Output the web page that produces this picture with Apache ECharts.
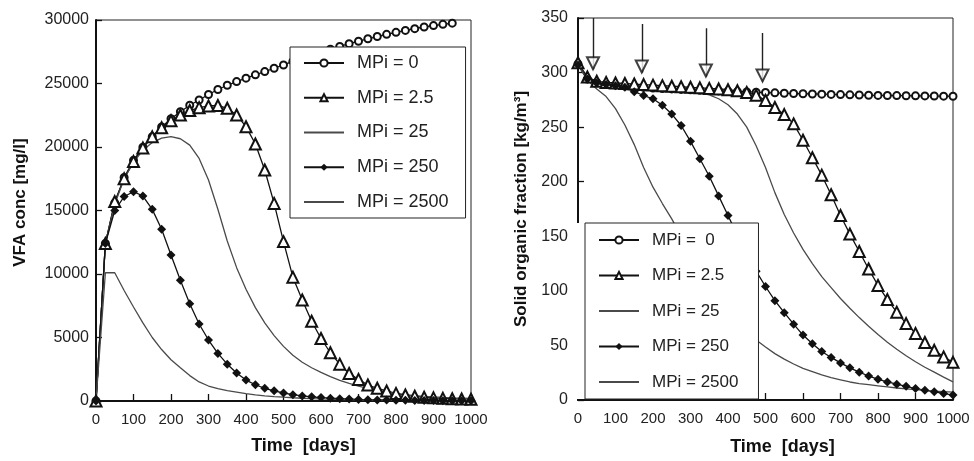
<!DOCTYPE html>
<html><head><meta charset="utf-8">
<script src="https://cdn.jsdelivr.net/npm/echarts@6/dist/echarts.min.js"></script>
<style>html,body{margin:0;padding:0;background:#fff}#c{width:974px;height:461px}</style>
</head><body><div id="c"></div><script>
// ---- data ----
const days = [0,25,50,75,100,125,150,175,200,225,250,275,300,325,350,375,400,425,450,475,500,525,550,575,600,625,650,675,700,725,750,775,800,825,850,875,900,925,950,975,1000];

// Left panel: VFA concentration [mg/l]
const vfa0 = [0,12400,15600,17600,18950,19980,20810,21580,22230,22780,23290,23700,24130,24530,24860,25150,25420,25680,25940,26200,26460,26740,27000,27240,27470,27700,27920,28130,28330,28520,28700,28870,29030,29180,29320,29450,29560,29660,29750];
const vfa2_5 = [0,12400,15700,17500,18850,19920,20800,21520,22070,22520,22870,23100,23230,23270,23050,22520,21600,20240,18190,15560,12550,9750,7950,6280,4920,3800,2900,2170,1700,1260,1000,790,600,470,370,300,250,210,180,160,140];
const vfa25 = [0,12400,15500,17500,18800,19750,20350,20700,20810,20650,20150,19100,17400,15100,12600,10500,8800,7350,6150,5150,4300,3600,3050,2620,2250,1920,1630,1380,1170,990,840,710,600,510,430,370,320,280,250,225,200];
const vfa250 = [0,12400,15000,16100,16480,16140,15090,13520,11500,9500,7650,6060,4800,3750,2900,2200,1650,1280,1000,800,630,500,400,330,270,220,180,150,120,100,85,70,60,50,42,36,30,26,22,19,16];
const vfa2500 = [0,10100,10100,8700,7400,6150,5000,4050,3250,2620,2000,1500,1180,970,820,700,580,490,410,350,300,255,215,185,160,140,120,105,92,80,70,62,55,49,44,39,35,31,28,25,22];

// Right panel: solid organic fraction [kg/m3]
const sof0 = [308,294,291,289.5,288.5,287.6,287,286.4,285.9,285.4,285,284.6,284.2,283.8,283.5,283.2,282.9,282.6,282.3,282,281.7,281.4,281.1,280.8,280.6,280.4,280.2,280,279.8,279.6,279.4,279.2,279.1,279,278.9,278.8,278.7,278.6,278.5,278.4,278.3];
const sof2_5 = [309,296,292,291,290.5,290,289.5,289,288.5,288,287.5,287,286.5,286,285.5,285,284.3,283.3,281.8,279.3,274.5,268,261.5,253,238,222,206,188,169,152,136,120,105,92,80.5,70,61,52.7,45.5,39.5,34.5];
const sof25 = [308,294,290.5,289,288,287,286.2,285.5,284.8,284.2,283.6,283,282.3,281.3,279.5,276,270.5,262,250,233,213,190,170,153,138,125,113,103,93,84,75.5,67.5,60,53,46.5,40.5,35,30,25.5,21,16.6];
const sof250 = [307,294,290.5,289,288,286.5,282.5,279,276,270,262,251.5,237,221,205,187,169,151,134,118,104,91,80,69.5,59.5,51.5,44.5,39,34,29.5,25.5,22,19,16.5,14.5,12.5,10.5,9,7.5,6,4.5];
const sof2500 = [307,293,285,278,267,252,234,213,195,180,166,150,135,120,106,93,82,72,63,55,48.5,42.5,37.5,33,29,26,23,20.5,18.5,16.5,15,14,13,12,11,10.2,9.5,8.8,8.2,7.7,7.2];

// Arrows on right panel (day, top of shaft, tip value)
const arrowDays = [40,170,341,492];
const arrowTop = [350,344.6,340.7,336.2];
const arrowTip = [303,300,296.4,291.9];

const leftNames = ['MPi = 0','MPi = 2.5','MPi = 25','MPi = 250','MPi = 2500'];
const rightNames = ['MPi =  0','MPi = 2.5','MPi = 25','MPi = 250','MPi = 2500'];
const lineOnly = ['MPi = 25','MPi = 2500'];

// ---- chart ----
const FONT = '"Liberation Sans", Arial, Helvetica, sans-serif';
const pairs = (xs, ys) => ys.map((y, i) => [xs[i], y]);
const BLACK = '#111', GRAY = '#4a4a4a';

function mkSeries(name, gi, ys, kind) {
  const s = {
    name, type: 'line', xAxisIndex: gi, yAxisIndex: gi,
    data: pairs(days, ys), showAllSymbol: true, z: 3,
    lineStyle: { color: BLACK, width: 1.3 }, itemStyle: { color: BLACK }
  };
  if (kind === 'circle') { s.symbol = 'emptyCircle'; s.symbolSize = 7; s.itemStyle.borderWidth = 1; }
  else if (kind === 'tri') { s.symbol = 'emptyTriangle'; s.symbolSize = 11; s.itemStyle.borderWidth = 1; }
  else if (kind === 'dia') { s.symbol = 'diamond'; s.symbolSize = 9; }
  else { s.symbol = 'none'; s.lineStyle.color = GRAY; s.lineStyle.width = 1.3; s.itemStyle.color = GRAY; }
  return s;
}

function xAx(gi) {
  return {
    type: 'value', gridIndex: gi, min: 0, max: 1000, interval: 100,
    axisLine: { lineStyle: { color: BLACK, width: 2 } },
    axisTick: { inside: true, length: 7, lineStyle: { color: BLACK, width: 1.3 } },
    axisLabel: { fontSize: 15, color: '#222', margin: 11, fontFamily: FONT, formatter: v => String(v) },
    splitLine: { show: false },
    name: 'Time  [days]', nameLocation: 'middle', nameGap: gi === 0 ? 36 : 38,
    nameTextStyle: { fontSize: 18, fontWeight: 'bold', color: '#111', fontFamily: FONT, padding: [0, 0, 0, gi === 0 ? 40 : 34] }
  };
}

function yAx(gi, max, interval, name, gap, margin, pad) {
  return {
    type: 'value', gridIndex: gi, min: 0, max, interval,
    axisLine: { lineStyle: { color: BLACK, width: 2 } },
    axisTick: { inside: true, length: 6, lineStyle: { color: BLACK, width: 1.3 } },
    axisLabel: { fontSize: 16, color: '#222', margin, fontFamily: FONT, formatter: v => String(v) },
    splitLine: { show: false },
    name, nameLocation: 'middle', nameGap: gap,
    nameTextStyle: { fontSize: 17, fontWeight: 'bold', color: '#111', fontFamily: FONT, padding: pad }
  };
}

function legend(names, left, top, fs, gap, pad) {
  return {
    orient: 'vertical', left, top, selectedMode: false,
    data: names.map(n => lineOnly.includes(n) ? { name: n, itemStyle: { opacity: 0 } } : { name: n }),
    itemWidth: 40, itemHeight: 9, itemGap: gap, padding: pad,
    backgroundColor: '#fff', borderColor: '#222', borderWidth: 1,
    textStyle: { fontSize: fs, color: '#222', fontFamily: FONT, lineHeight: 20, padding: [0, 0, 0, 8] },
    z: 10
  };
}

const series = [
  mkSeries(leftNames[0], 0, vfa0, 'circle'),
  mkSeries(leftNames[1], 0, vfa2_5, 'tri'),
  mkSeries(leftNames[2], 0, vfa25, 'none'),
  mkSeries(leftNames[3], 0, vfa250, 'dia'),
  mkSeries(leftNames[4], 0, vfa2500, 'none'),
  mkSeries(rightNames[0], 1, sof0, 'circle'),
  mkSeries(rightNames[1], 1, sof2_5, 'tri'),
  mkSeries(rightNames[2], 1, sof25, 'none'),
  mkSeries(rightNames[3], 1, sof250, 'dia'),
  mkSeries(rightNames[4], 1, sof2500, 'none'),
  {
    name: 'arrow shafts', type: 'lines', coordinateSystem: 'cartesian2d', xAxisIndex: 1, yAxisIndex: 1,
    data: arrowDays.map((d, i) => ({ coords: [[d, arrowTop[i]], [d, arrowTip[i]]] })),
    lineStyle: { color: '#222', width: 1.4, opacity: 1 }, z: 4, silent: true
  },
  {
    name: 'arrow heads', type: 'scatter', xAxisIndex: 1, yAxisIndex: 1,
    data: pairs(arrowDays, arrowTip), symbol: 'emptyTriangle', symbolRotate: 180,
    symbolSize: [12, 12], symbolOffset: [0, -6],
    itemStyle: { color: '#111', borderWidth: 1.3 }, z: 5, silent: true
  }
];

const option = {
  animation: false,
  backgroundColor: '#fff',
  textStyle: { fontFamily: FONT },
  grid: [
    { left: 96, top: 20, width: 375, height: 381, show: true, borderColor: '#222', borderWidth: 1 },
    { left: 578, top: 18, width: 375, height: 387, show: true, borderColor: '#222', borderWidth: 1 }
  ],
  xAxis: [xAx(0), xAx(1)],
  yAxis: [
    yAx(0, 30000, 5000, 'VFA conc [mg/l]', 67, 7, [0, 0, 0, 16]),
    yAx(1, 350, 50, 'Solid organic fraction [kg/m³]', 48, 10, [0, 0, 0, 0])
  ],
  legend: [
    legend(leftNames, 290, 47, 18, 14.75, [6, 17, 6, 13]),
    legend(rightNames, 585, 223, 17, 15.5, [7, 20, 7, 13])
  ],
  graphic: [
    { type: 'rect', left: 574, top: 223, shape: { width: 11, height: 176 }, style: { fill: '#fff' }, z: 5 }
  ],
  series
};
echarts.init(document.getElementById('c'), null, { renderer: 'canvas' }).setOption(option);
</script></body></html>
